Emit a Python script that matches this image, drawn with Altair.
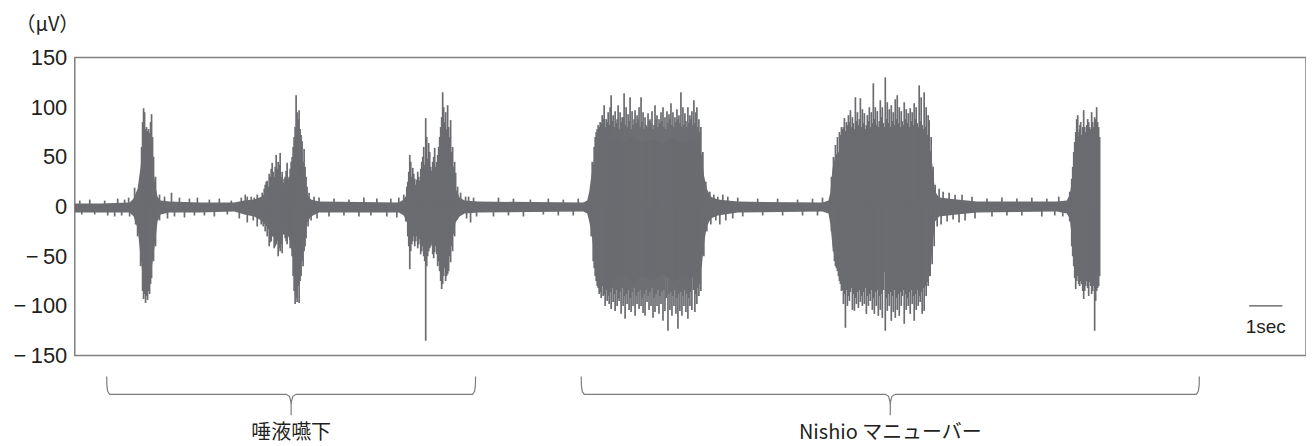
import altair as alt
import pandas as pd

# ---------------- data ----------------
# core envelope of the EMG trace (time in s, upper / lower in µV)
env_t = [0.00, 0.75, 1.65, 1.77, 1.89, 1.98, 2.04, 2.16, 2.25, 2.34, 2.43, 2.49, 2.58, 2.85,
         3.75, 4.80, 5.10, 5.40, 5.61, 5.79, 5.94, 6.09, 6.24, 6.36, 6.48, 6.60, 6.69, 6.81,
         6.90, 6.99, 7.11, 7.35, 9.75, 9.90, 10.02, 10.14, 10.29, 10.50, 10.71, 10.89, 11.01,
         11.13, 11.25, 11.37, 11.46, 11.58, 11.73, 12.15, 15.30, 15.42, 15.48, 15.54, 15.63,
         15.75, 15.90, 16.20, 16.50, 16.80, 17.10, 17.40, 17.70, 18.00, 18.30, 18.60,
         18.75, 18.87, 18.93, 19.02, 19.14, 19.35, 19.95, 22.50, 22.68, 22.74,
         22.80, 22.89, 23.10, 23.40, 23.70, 24.00, 24.30, 24.60, 24.90, 25.20, 25.50,
         25.65, 25.77, 25.83, 25.89, 26.01, 26.55, 27.15, 29.55, 29.85,
         29.94, 30.00, 30.09, 30.21, 30.75, 30.84]
env_hi = [3, 3, 4, 8, 18, 40, 60, 68, 64, 42, 20, 10, 6, 5,
          4, 4, 6, 7, 10, 15, 20, 22, 20, 18, 28, 52, 62, 48,
          26, 12, 7, 5, 4, 7, 14, 18, 20, 22, 25, 30, 45,
          52, 44, 32, 18, 9, 6, 5, 4, 6, 15, 30, 48,
          58, 62, 68, 63, 70, 64, 68, 63, 69, 65, 67,
          62, 52, 32, 18, 10, 7, 5, 4, 6, 15,
          38, 52, 58, 63, 57, 64, 60, 65, 58, 62, 60,
          60, 55, 33, 15, 9, 7, 5, 5, 6,
          12, 25, 52, 62, 62, 58]
env_lo = [-6, -6, -6, -10, -22, -50, -70, -78, -74, -56, -32, -15, -8, -6,
          -6, -5, -8, -10, -14, -20, -30, -32, -30, -24, -35, -60, -74, -56,
          -30, -16, -10, -6, -6, -9, -18, -24, -24, -26, -30, -38, -56,
          -62, -48, -30, -16, -10, -7, -6, -5, -7, -15, -25, -48,
          -64, -70, -74, -68, -76, -70, -75, -68, -76, -70, -72,
          -68, -60, -38, -20, -12, -9, -6, -5, -7, -18,
          -40, -55, -64, -68, -62, -70, -64, -72, -63, -68, -64,
          -64, -56, -33, -15, -10, -8, -6, -5, -7,
          -12, -30, -58, -66, -66, -60]

# individual positive peaks (time s, µV)
up_t = [0.15, 0.45, 0.90, 1.29, 1.50, 1.62, 1.80, 2.55, 2.70, 2.91, 3.15, 3.45, 3.69, 4.05,
        4.35, 4.71, 5.01, 5.13, 5.31, 5.49, 7.20, 7.35, 7.80, 8.25, 8.70, 9.09, 9.51, 9.75,
        11.85, 12.00, 12.75, 13.20, 13.71, 14.25, 14.70, 15.15, 19.50, 19.65, 19.95, 20.55,
        21.15, 21.75, 22.20, 22.50, 26.70, 27.00, 27.45, 27.90, 28.35, 28.80, 29.25, 29.61,
        # burst 1
        2.01, 2.04, 2.07, 2.10, 2.13, 2.16, 2.19, 2.22, 2.25, 2.28, 2.31, 2.34, 2.37, 2.43,
        # burst 2
        5.19, 5.40, 5.64, 5.73, 5.79, 5.85, 5.91, 5.94, 6.00, 6.06, 6.12, 6.18, 6.24, 6.30,
        6.39, 6.45, 6.51, 6.57, 6.63, 6.66, 6.69, 6.72, 6.75, 6.78, 6.81, 6.84, 6.90, 6.96, 7.05,
        # burst 3
        9.90, 9.99, 10.05, 10.08, 10.11, 10.14, 10.17, 10.23, 10.29, 10.35, 10.44, 10.50,
        10.56, 10.59, 10.65, 10.71, 10.77, 10.83, 10.89, 10.95, 11.01, 11.07, 11.10, 11.16,
        11.22, 11.25, 11.31, 11.37, 11.43, 11.46, 11.52, 11.61, 11.76,
        # burst 4
        15.57, 15.63, 15.69, 15.75, 15.81, 15.87, 15.93, 15.99, 16.05, 16.11, 16.14, 16.20,
        16.26, 16.32, 16.35, 16.41, 16.47, 16.53, 16.59, 16.65, 16.71, 16.77, 16.83, 16.86,
        16.92, 16.98, 17.04, 17.10, 17.16, 17.25, 17.31, 17.37, 17.46, 17.52, 17.58, 17.64,
        17.70, 17.76, 17.82, 17.88, 17.94, 18.00, 18.06, 18.12, 18.18, 18.24, 18.30, 18.36,
        18.45, 18.51, 18.57, 18.63, 18.69, 18.72, 18.78, 18.84, 18.90, 18.99, 19.11, 19.23, 19.35,
        # burst 5
        22.77, 22.83, 22.89, 22.95, 23.01, 23.07, 23.16, 23.22, 23.28, 23.34, 23.40, 23.49,
        23.55, 23.64, 23.70, 23.76, 23.85, 23.91, 23.97, 24.03, 24.09, 24.15, 24.24, 24.30,
        24.39, 24.45, 24.51, 24.57, 24.63, 24.69, 24.75, 24.81, 24.87, 24.96, 25.02, 25.08,
        25.14, 25.20, 25.26, 25.32, 25.41, 25.47, 25.56, 25.62, 25.68, 25.71, 25.77, 25.83,
        25.89, 26.01, 26.13, 26.31, 26.49,
        # burst 6
        29.94, 30.00, 30.06, 30.12, 30.15, 30.18, 30.21, 30.24, 30.27, 30.30, 30.36, 30.39,
        30.42, 30.48, 30.54, 30.60, 30.63, 30.69, 30.75, 30.78, 30.81]
up_v = [6, 7, 6, 8, 7, 9, 19, 12, 10, 14, 9, 8, 9, 7,
        8, 6, 9, 12, 10, 12, 10, 9, 8, 7, 9, 8, 8, 9,
        10, 9, 9, 8, 7, 8, 7, 8, 12, 10, 9, 8,
        8, 7, 8, 9, 12, 10, 8, 9, 8, 9, 8, 10,
        60, 85, 99, 95, 78, 80, 76, 78, 74, 85, 93, 70, 50, 30,
        10, 9, 14, 22, 26, 33, 38, 44, 30, 52, 45, 54, 35, 28,
        44, 30, 45, 60, 80, 112, 95, 88, 97, 78, 72, 66, 58, 30, 14,
        12, 20, 35, 52, 45, 30, 39, 28, 27, 30, 45, 60,
        89, 70, 64, 40, 45, 59, 45, 60, 80, 115, 100, 95,
        102, 80, 87, 60, 45, 34, 20, 14, 10,
        45, 60, 75, 82, 85, 92, 102, 88, 95, 100, 112, 92,
        96, 88, 102, 95, 90, 114, 100, 93, 110, 96, 88, 97,
        92, 100, 110, 95, 90, 94, 88, 96, 102, 92, 88, 95,
        100, 90, 96, 93, 104, 95, 90, 98, 92, 115, 100, 94,
        100, 92, 96, 107, 95, 100, 88, 80, 55, 25, 15, 12, 10,
        30, 50, 62, 70, 75, 80, 89, 85, 92, 97, 90, 110,
        95, 109, 98, 94, 92, 100, 95, 124, 100, 96, 107, 100,
        130, 105, 98, 102, 95, 108, 112, 100, 96, 105, 98, 94,
        99, 95, 104, 100, 122, 110, 115, 100, 92, 87, 70, 40,
        22, 18, 15, 14, 12,
        15, 28, 55, 75, 88, 92, 70, 78, 85, 72, 97, 80,
        75, 88, 80, 95, 85, 90, 100, 85, 80]

# individual negative peaks (time s, µV)
dn_t = [0.21, 0.60, 0.99, 1.20, 1.41, 1.65, 2.55, 2.79, 3.00, 3.30, 3.60, 3.90, 4.20, 4.59,
        4.95, 5.19, 5.37, 5.49, 7.11, 7.29, 7.65, 8.10, 8.55, 8.91, 9.39, 9.69, 11.79, 11.91,
        12.09, 12.60, 13.05, 13.50, 14.10, 14.55, 15.00, 19.41, 19.59, 19.80, 20.10, 20.70,
        21.30, 21.90, 22.35, 26.61, 26.79, 27.09, 27.60, 28.05, 28.50, 29.10, 29.49, 29.73,
        # burst 1
        1.83, 1.89, 1.98, 2.04, 2.07, 2.10, 2.13, 2.16, 2.19, 2.22, 2.25, 2.28, 2.31, 2.37, 2.43,
        # burst 2
        5.61, 5.73, 5.85, 5.91, 6.00, 6.06, 6.12, 6.18, 6.24, 6.30, 6.39, 6.45, 6.54, 6.60,
        6.63, 6.66, 6.69, 6.72, 6.75, 6.78, 6.81, 6.87, 6.93, 7.02,
        # burst 3
        9.96, 10.02, 10.08, 10.11, 10.17, 10.23, 10.29, 10.35, 10.44, 10.50, 10.56, 10.59,
        10.65, 10.71, 10.77, 10.83, 10.89, 10.95, 11.01, 11.04, 11.10, 11.16, 11.19, 11.25,
        11.31, 11.37, 11.43, 11.49,
        # burst 4
        15.54, 15.60, 15.66, 15.72, 15.78, 15.84, 15.90, 15.96, 16.02, 16.08, 16.14, 16.20,
        16.26, 16.32, 16.38, 16.44, 16.50, 16.56, 16.62, 16.68, 16.74, 16.80, 16.86, 16.92,
        16.98, 17.04, 17.10, 17.16, 17.22, 17.28, 17.34, 17.40, 17.46, 17.52, 17.58, 17.64,
        17.70, 17.76, 17.85, 17.91, 17.97, 18.03, 18.09, 18.15, 18.21, 18.27, 18.33, 18.39,
        18.45, 18.51, 18.57, 18.66, 18.72, 18.78, 18.84, 18.93, 19.02, 19.14, 19.29,
        # burst 5
        22.77, 22.83, 22.89, 22.95, 23.01, 23.07, 23.13, 23.19, 23.25, 23.31, 23.40, 23.46,
        23.52, 23.58, 23.64, 23.70, 23.76, 23.82, 23.88, 23.94, 24.00, 24.06, 24.12, 24.18,
        24.24, 24.30, 24.39, 24.45, 24.51, 24.57, 24.63, 24.69, 24.75, 24.81, 24.87, 24.96,
        25.02, 25.08, 25.14, 25.20, 25.26, 25.32, 25.38, 25.44, 25.50, 25.56, 25.62, 25.68,
        25.74, 25.80, 25.86, 25.95, 26.07, 26.25, 26.43,
        # burst 6
        29.94, 30.00, 30.06, 30.12, 30.15, 30.18, 30.24, 30.30, 30.36, 30.39, 30.45, 30.51,
        30.57, 30.63, 30.69, 30.72, 30.75, 30.81]
dn_v = [-8, -8, -9, -10, -9, -10, -14, -12, -10, -11, -9, -9, -10, -8,
        -12, -16, -14, -20, -14, -12, -10, -9, -10, -9, -10, -11, -12, -16,
        -10, -10, -9, -10, -8, -9, -9, -18, -14, -12, -10, -9,
        -9, -9, -9, -16, -14, -12, -10, -9, -9, -10, -9, -10,
        -18, -30, -60, -85, -93, -88, -97, -90, -94, -85, -88, -78, -72, -55, -40,
        -18, -25, -40, -35, -42, -38, -50, -45, -47, -28, -38, -30, -50, -85,
        -98, -92, -96, -80, -97, -75, -70, -60, -40, -20,
        -15, -30, -63, -45, -35, -40, -30, -38, -45, -50, -135, -60,
        -45, -40, -48, -46, -48, -55, -75, -83, -70, -75, -70, -65,
        -56, -45, -30, -13,
        -30, -55, -70, -80, -88, -92, -90, -100, -95, -98, -103, -96,
        -105, -100, -95, -108, -100, -113, -98, -104, -106, -100, -110, -98,
        -103, -100, -107, -110, -96, -104, -100, -112, -106, -100, -108, -98,
        -115, -105, -125, -104, -110, -100, -108, -123, -105, -110, -100, -106,
        -113, -100, -104, -106, -98, -90, -85, -50, -25, -18, -14,
        -25, -45, -60, -65, -75, -85, -98, -122, -100, -95, -104, -105,
        -98, -102, -96, -100, -98, -108, -100, -95, -104, -108, -100, -110,
        -104, -112, -125, -105, -100, -115, -106, -112, -104, -110, -100, -118,
        -104, -100, -108, -98, -115, -104, -100, -96, -108, -105, -90, -80,
        -70, -58, -40, -20, -18, -15, -13,
        -15, -40, -60, -83, -75, -70, -80, -78, -93, -85, -75, -90,
        -80, -85, -125, -95, -85, -80]

# shorter peaks filling the gaps inside the bursts (time s, µV)
fill_up = [(5.70, 18), (5.76, 25), (5.82, 20), (5.88, 30), (5.97, 35), (6.03, 40), (6.09, 38),
           (6.15, 42), (6.21, 30), (6.27, 24), (6.33, 30), (6.36, 36), (6.42, 28), (6.48, 38),
           (6.54, 50), (6.60, 70), (6.87, 45), (6.93, 40), (6.99, 20),
           (10.02, 25), (10.20, 33), (10.26, 22), (10.32, 35), (10.38, 26), (10.41, 38),
           (10.47, 50), (10.53, 42), (10.62, 48), (10.68, 55), (10.74, 36), (10.80, 50),
           (10.86, 40), (10.92, 52), (10.98, 70), (11.04, 90), (11.13, 85), (11.19, 78),
           (11.28, 70), (11.34, 55), (11.40, 40),
           (15.66, 70), (15.72, 78), (15.78, 80), (15.84, 84), (15.90, 88), (15.96, 80),
           (16.02, 85), (16.08, 82), (16.17, 86), (16.23, 80), (16.29, 84), (16.38, 78),
           (16.44, 85), (16.50, 90), (16.56, 82), (16.62, 80), (16.68, 86), (16.74, 78),
           (16.80, 82), (16.89, 84), (16.95, 88), (17.01, 80), (17.07, 85), (17.13, 78),
           (17.19, 82), (17.22, 80), (17.28, 86), (17.34, 84), (17.40, 78), (17.43, 82),
           (17.49, 88), (17.55, 80), (17.61, 84), (17.67, 86), (17.73, 80), (17.79, 78),
           (17.85, 84), (17.91, 88), (17.97, 82), (18.03, 80), (18.09, 85), (18.15, 88),
           (18.21, 84), (18.27, 80), (18.33, 82), (18.39, 86), (18.42, 80), (18.48, 84),
           (18.54, 88), (18.60, 82), (18.66, 84), (18.75, 80), (18.81, 75),
           (23.04, 72), (23.11, 78), (23.13, 80), (23.19, 76), (23.25, 82), (23.31, 85),
           (23.37, 80), (23.43, 84), (23.46, 78), (23.52, 86), (23.58, 82), (23.61, 88),
           (23.67, 80), (23.73, 84), (23.79, 78), (23.82, 82), (23.88, 86), (23.94, 80),
           (24.00, 84), (24.06, 88), (24.12, 82), (24.18, 80), (24.21, 86), (24.27, 90),
           (24.33, 84), (24.36, 80), (24.42, 88), (24.48, 84), (24.54, 80), (24.60, 86),
           (24.66, 82), (24.72, 88), (24.78, 84), (24.84, 80), (24.90, 86), (24.93, 82),
           (24.99, 88), (25.05, 84), (25.11, 80), (25.17, 86), (25.23, 82), (25.29, 88),
           (25.35, 84), (25.38, 80), (25.44, 86), (25.50, 82), (25.53, 78), (25.59, 80),
           (25.65, 72),
           (30.03, 40), (30.09, 65), (30.22, 75), (30.25, 82), (30.33, 80), (30.45, 82),
           (30.51, 85), (30.57, 78), (30.66, 80), (30.72, 88), (30.84, 70)]
fill_dn = [(5.67, -20), (5.79, -30), (5.88, -36), (5.94, -30), (6.03, -40), (6.09, -35),
           (6.15, -42), (6.21, -38), (6.27, -25), (6.33, -32), (6.36, -35), (6.42, -28),
           (6.48, -42), (6.57, -70), (6.84, -55), (6.90, -45), (6.96, -32),
           (10.05, -40), (10.14, -38), (10.20, -30), (10.26, -35), (10.32, -42), (10.38, -33),
           (10.41, -48), (10.47, -40), (10.53, -55), (10.62, -50), (10.68, -42), (10.74, -38),
           (10.80, -52), (10.86, -40), (10.92, -60), (10.98, -65), (11.07, -78), (11.13, -62),
           (11.22, -68), (11.28, -50), (11.34, -40), (11.40, -28),
           (15.63, -62), (15.69, -75), (15.75, -82), (15.81, -86), (15.87, -80), (15.93, -88),
           (15.99, -84), (16.05, -90), (16.11, -86), (16.17, -82), (16.23, -88), (16.29, -84),
           (16.35, -92), (16.41, -86), (16.47, -82), (16.53, -90), (16.59, -88), (16.65, -84),
           (16.71, -92), (16.77, -86), (16.83, -82), (16.89, -90), (16.95, -86), (17.01, -84),
           (17.07, -92), (17.13, -88), (17.19, -84), (17.25, -90), (17.31, -86), (17.37, -82),
           (17.43, -92), (17.49, -88), (17.55, -84), (17.61, -90), (17.67, -86), (17.73, -84),
           (17.80, -92), (17.88, -88), (17.94, -86), (18.00, -90), (18.06, -84), (18.12, -92),
           (18.18, -88), (18.24, -86), (18.30, -90), (18.36, -84), (18.42, -88), (18.48, -92),
           (18.54, -86), (18.62, -84), (18.69, -88), (18.75, -82), (18.81, -78),
           (22.86, -55), (22.92, -62), (22.98, -70), (23.04, -78), (23.10, -84), (23.16, -88),
           (23.22, -84), (23.28, -90), (23.34, -86), (23.37, -82), (23.43, -88), (23.49, -92),
           (23.55, -86), (23.61, -84), (23.67, -90), (23.73, -86), (23.79, -82), (23.85, -90),
           (23.91, -88), (23.97, -84), (24.03, -92), (24.09, -86), (24.15, -84), (24.21, -90),
           (24.27, -88), (24.34, -84), (24.42, -92), (24.48, -88), (24.54, -86), (24.60, -90),
           (24.66, -84), (24.72, -92), (24.78, -88), (24.84, -86), (24.90, -90), (24.93, -84),
           (24.99, -88), (25.05, -92), (25.11, -86), (25.17, -84), (25.23, -90), (25.29, -88),
           (25.35, -84), (25.41, -90), (25.47, -86), (25.53, -82), (25.59, -80), (25.65, -76),
           (25.71, -70),
           (30.03, -50), (30.09, -72), (30.21, -78), (30.27, -75), (30.33, -85), (30.42, -80),
           (30.48, -82), (30.54, -76), (30.60, -88), (30.66, -80), (30.78, -82), (30.84, -70)]

y_ticks = [-150, -100, -50, 0, 50, 100, 150]
unit_label = "（μV）"

# task segments marked with braces under the trace
seg_start = [0.96, 15.24]
seg_end = [12.06, 33.84]
seg_label = ["唾液嚥下", "Nishio マニューバー"]

# time scale bar
bar_start = 35.34
bar_len = 1.0
bar_label = "1sec"

# ---------------- build tables ----------------
env = pd.DataFrame({"t": env_t, "hi": env_hi, "lo": env_lo})
spikes = pd.concat([
    pd.DataFrame({"t": up_t, "v": up_v}),
    pd.DataFrame({"t": dn_t, "v": dn_v}),
    pd.DataFrame(fill_up, columns=["t", "v"]),
    pd.DataFrame(fill_dn, columns=["t", "v"]),
], ignore_index=True)
spikes["base"] = 0

BR_TOP, BR_MID, BR_TIP, LAB_Y = -171, -189, -210, -228
rows = []
for i, (s, e) in enumerate(zip(seg_start, seg_end)):
    m = (s + e) / 2
    pts = [(s, BR_TOP), (s + 0.005, BR_TOP - 9), (s + 0.03, BR_MID + 3), (s + 0.09, BR_MID),
           (m - 0.15, BR_MID), (m - 0.05, BR_MID - 2), (m - 0.01, BR_MID - 7), (m, BR_MID - 11),
           (m, BR_TIP), (m, BR_MID - 11), (m + 0.01, BR_MID - 7), (m + 0.05, BR_MID - 2),
           (m + 0.15, BR_MID), (e - 0.09, BR_MID), (e - 0.03, BR_MID + 3),
           (e - 0.005, BR_TOP - 9), (e, BR_TOP)]
    for k, (x, y) in enumerate(pts):
        rows.append({"brace": i, "k": k, "t": x, "y": y})
braces = pd.DataFrame(rows)
labels = pd.DataFrame({"t": [(s + e) / 2 for s, e in zip(seg_start, seg_end)],
                       "y": [LAB_Y] * len(seg_label), "label": seg_label})
bar = pd.DataFrame({"t": [bar_start], "t2": [bar_start + bar_len], "y": [-100],
                    "tm": [bar_start + bar_len / 2], "ty": [-121], "label": [bar_label]})

COL = "#6b6c70"
xs = alt.Scale(domain=[0, 37.05], nice=False, zero=False)
ys = alt.Scale(domain=[-150, 150], nice=False)

y_axis = alt.Axis(values=y_ticks, ticks=False, domain=False, grid=False, labelFontSize=22,
                  labelFont="Liberation Sans", labelColor="#231f20", labelPadding=8,
                  labelExpr="datum.value < 0 ? '−\u2009' + abs(datum.value) : datum.value",
                  title=unit_label, titleAngle=0, titleX=-28, titleY=-33, titleAlign="center",
                  titleBaseline="middle", titleFontSize=20, titleFontWeight="normal",
                  titleFont="Noto Sans CJK JP", titleColor="#231f20")

area = alt.Chart(env).mark_area(color=COL, opacity=1).encode(
    x=alt.X("t:Q", scale=xs, axis=None),
    y=alt.Y("hi:Q", scale=ys, axis=y_axis),
    y2="lo:Q",
)
spk = alt.Chart(spikes).mark_rule(color=COL, strokeWidth=1.7).encode(
    x="t:Q", y="base:Q", y2="v:Q")

br = alt.Chart(braces).mark_line(color="#7d7d7d", strokeWidth=1.2).encode(
    x="t:Q", y="y:Q", detail="brace:N", order="k:Q")
lab = alt.Chart(labels).mark_text(font="Noto Sans CJK JP", fontSize=20, color="#231f20",
                                  baseline="middle").encode(x="t:Q", y="y:Q", text="label:N")
sbar = alt.Chart(bar).mark_rule(color="#555", strokeWidth=1.2).encode(x="t:Q", x2="t2:Q", y="y:Q")
stxt = alt.Chart(bar).mark_text(font="Liberation Sans", fontSize=19, color="#231f20",
                                baseline="middle").encode(x="tm:Q", y="ty:Q", text="label:N")

chart = alt.layer(area, spk, br, lab, sbar, stxt).properties(
    width=1235, height=299,
    autosize=alt.AutoSizeParams(type="none"),
    padding={"left": 67, "top": 49, "right": 0, "bottom": 90},
).configure_view(stroke="#808080", strokeWidth=1.5)

chart.save("out.html", embed_options={"renderer": "svg", "actions": False})
